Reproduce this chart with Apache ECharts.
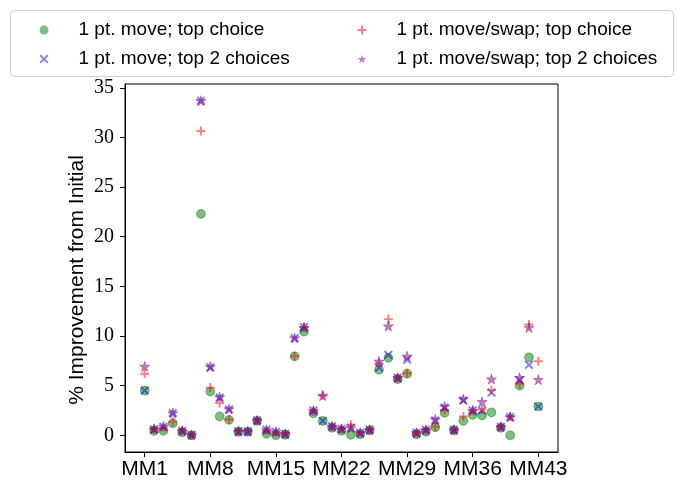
<!DOCTYPE html>
<html>
<head>
<meta charset="utf-8">
<script src="https://cdn.jsdelivr.net/npm/echarts@6/dist/echarts.min.js"></script>
<style>html,body{margin:0;padding:0;background:#fff;}#c{width:682px;height:491px;}</style>
</head>
<body>
<div id="c"></div>
<script>
const categories = ['MM1','MM2','MM3','MM4','MM5','MM6','MM7','MM8','MM9','MM10','MM11','MM12','MM13','MM14','MM15','MM16','MM17','MM18','MM19','MM20','MM21','MM22','MM23','MM24','MM25','MM26','MM27','MM28','MM29','MM30','MM31','MM32','MM33','MM34','MM35','MM36','MM37','MM38','MM39','MM40','MM41','MM42','MM43'];
const moveTop1 = [4.5,0.45,0.45,1.2,0.3,0.0,22.3,4.4,1.9,1.55,0.35,0.35,1.45,0.15,0.0,0.05,7.95,10.45,2.2,1.45,0.75,0.45,0.05,0.1,0.5,6.6,7.8,5.65,6.2,0.1,0.35,0.8,2.25,0.5,1.45,2.05,2.0,2.3,0.75,0.0,5.0,7.85,2.9];
const moveTop2 = [4.5,0.6,0.85,2.25,0.45,0.05,33.7,6.85,3.8,2.6,0.4,0.4,1.5,0.55,0.35,0.15,9.8,10.9,2.5,1.45,0.9,0.65,0.75,0.25,0.55,6.8,8.1,5.8,7.6,0.25,0.55,1.5,2.8,0.55,3.5,2.5,2.5,4.3,0.85,1.85,5.55,7.1,2.9];
const swapTop1 = [6.2,0.6,0.75,1.35,0.45,0.0,30.65,4.8,3.25,1.6,0.4,0.4,1.5,0.45,0.25,0.15,7.95,10.9,2.4,4.0,0.85,0.65,1.05,0.25,0.55,7.25,11.7,5.8,6.25,0.2,0.5,0.85,2.55,0.55,1.9,2.5,2.6,4.55,0.85,1.9,5.2,11.15,7.45];
const swapTop2 = [6.93,0.65,0.9,2.24,0.45,0.05,33.7,6.9,3.85,2.65,0.4,0.4,1.5,0.55,0.35,0.15,9.8,10.85,2.5,4.0,0.9,0.65,0.75,0.25,0.55,7.45,11.0,5.8,7.95,0.25,0.55,1.6,2.9,0.55,3.65,2.5,3.38,5.66,0.85,1.85,5.8,10.85,5.6];
const seriesNames = ['1 pt. move; top choice','1 pt. move; top 2 choices','1 pt. move/swap; top choice','1 pt. move/swap; top 2 choices'];
const xTickLabels = ['MM1','MM8','MM15','MM22','MM29','MM36','MM43'];
const yTickLabels = [0,5,10,15,20,25,30,35];

const X_PATH = 'path://M1.5,0 L5,3.5 L8.5,0 L10,1.5 L6.5,5 L10,8.5 L8.5,10 L5,6.5 L1.5,10 L0,8.5 L3.5,5 L0,1.5 Z';
const PLUS_PATH = 'path://M3.9,0 H6.1 V3.9 H10 V6.1 H6.1 V10 H3.9 V6.1 H0 V3.9 H3.9 Z';
const STAR_PATH = 'path://M0,-10 L2.24,-3.08 L9.51,-3.09 L3.62,1.18 L5.88,8.09 L0,3.81 L-5.88,8.09 L-3.62,1.18 L-9.51,-3.09 L-2.24,-3.08 Z';

function pts(arr){ return arr.map((v,i)=>[i+1, v]); }
const xTickIdx = xTickLabels.map(t => categories.indexOf(t) + 1);

const chart = echarts.init(document.getElementById('c'), null, {renderer:'canvas'});
const sansFont = 'Liberation Sans';
const legendText = {fontFamily:sansFont, fontSize:19, lineHeight:22, color:'#000', padding:[0,0,0,25]};
chart.setOption({
  animation: false,
  backgroundColor: '#fff',
  grid: {left:125, right:124, top:84, bottom:39, show:true, borderColor:'#000', borderWidth:1, backgroundColor:'transparent'},
  xAxis: {
    type:'value', min:-1.1, max:45.1,
    splitLine:{show:false},
    axisLine:{show:true, onZero:false, lineStyle:{color:'#000', width:1}},
    axisTick:{show:true, length:5, lineStyle:{color:'#000', width:1}, customValues: xTickIdx},
    axisLabel:{customValues: xTickIdx, formatter: v => categories[Math.round(v)-1], color:'#000', fontFamily:sansFont, fontSize:21, margin:7}
  },
  yAxis: {
    type:'value', min:-1.685, max:35.385,
    splitLine:{show:false},
    axisLine:{show:true, onZero:false, lineStyle:{color:'#000', width:1}},
    axisTick:{show:true, length:5, lineStyle:{color:'#000', width:1}, customValues: yTickLabels},
    axisLabel:{customValues: yTickLabels, color:'#000', fontFamily:'Liberation Serif', fontSize:20, margin:11}
  },
  legend: [
    {data:[
       {name:seriesNames[0], icon:'circle', itemStyle:{color:'#008000', opacity:0.5, borderWidth:0}},
       {name:seriesNames[1], icon:X_PATH, itemStyle:{color:'#0000ff', opacity:0.5, borderWidth:0}}
     ], orient:'vertical', left:34.5, top:14, itemWidth:9, itemHeight:9, itemGap:7, z:5, textStyle:legendText},
    {data:[
       {name:seriesNames[2], icon:PLUS_PATH, itemStyle:{color:'#ff0000', opacity:0.5, borderWidth:0}},
       {name:seriesNames[3], icon:STAR_PATH, itemStyle:{color:'#800080', opacity:0.5, borderWidth:0}}
     ], orient:'vertical', left:352.5, top:14, itemWidth:9, itemHeight:9, itemGap:7, z:5, textStyle:legendText}
  ],
  graphic: [
    {type:'rect', z:1, shape:{x:10.5, y:10.5, width:663, height:66, r:4}, style:{fill:'rgba(255,255,255,0.8)', stroke:'#cccccc', lineWidth:1}},
    {type:'text', z:5, x:77, y:280, rotation:Math.PI/2, style:{text:'% Improvement from Initial', fontFamily:sansFont, fontSize:21, fill:'#000', align:'center', verticalAlign:'middle'}}
  ],
  series: [
    {name:seriesNames[0], type:'scatter', data:pts(moveTop1), symbol:'circle', symbolSize:8.5,
     itemStyle:{color:'#008000', opacity:0.5, borderColor:'#008000', borderWidth:1.2}},
    {name:seriesNames[1], type:'scatter', data:pts(moveTop2), symbol:X_PATH, symbolSize:9,
     itemStyle:{color:'#0000ff', opacity:0.5}},
    {name:seriesNames[2], type:'scatter', data:pts(swapTop1), symbol:PLUS_PATH, symbolSize:9,
     itemStyle:{color:'#ff0000', opacity:0.5}},
    {name:seriesNames[3], type:'scatter', data:pts(swapTop2), symbol:STAR_PATH, symbolSize:10,
     itemStyle:{color:'#800080', opacity:0.5, borderColor:'#800080', borderWidth:0.8}}
  ]
});
</script>
</body>
</html>
